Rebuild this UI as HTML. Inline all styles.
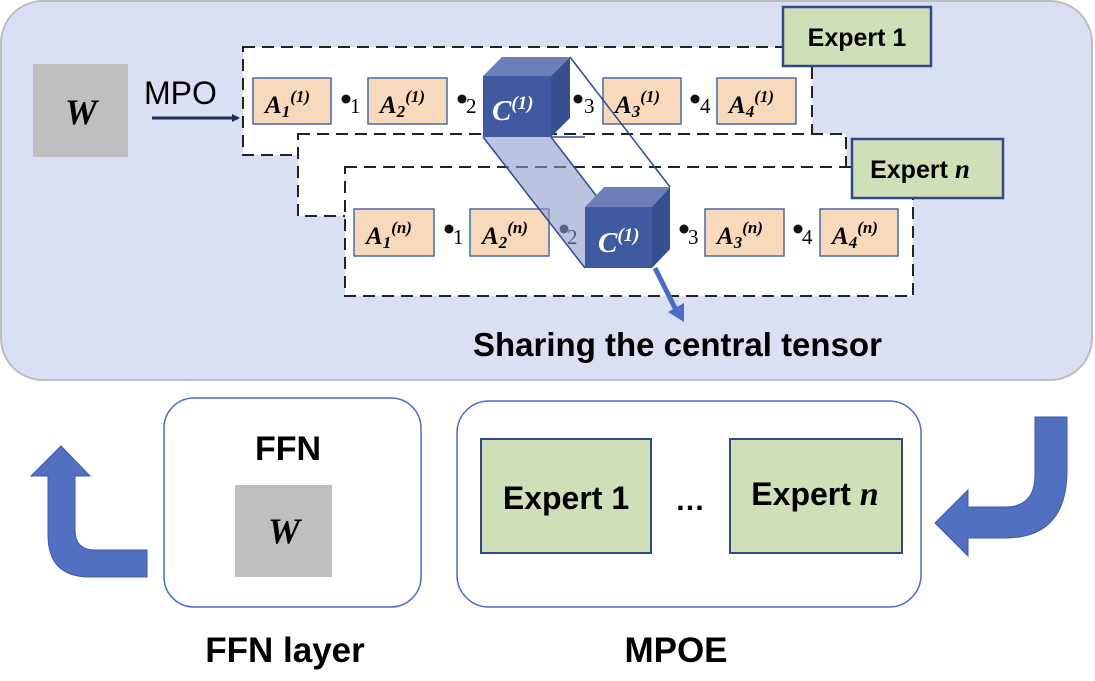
<!DOCTYPE html>
<html><head><meta charset="utf-8"><style>
html,body{margin:0;padding:0;background:#fff}
svg{display:block}
.s{font-family:"Liberation Sans",sans-serif;font-weight:bold}
.m{font-family:"Liberation Serif",serif;font-weight:bold;font-style:italic}
.n{font-family:"Liberation Serif",serif}
</style></head><body>
<svg width="1095" height="681" viewBox="0 0 1095 681" xmlns="http://www.w3.org/2000/svg">
<defs>
<marker id="ah" markerWidth="8" markerHeight="8" refX="6" refY="4" orient="auto" markerUnits="userSpaceOnUse"><path d="M0,0 L8,4 L0,8 z" fill="#1f2d5a"/></marker>
</defs>
<rect x="1" y="1" width="1091" height="379" rx="42" fill="#dae0f3" stroke="#bdbdbd" stroke-width="2"/>
<rect x="33" y="64" width="95" height="93" fill="#bfbfbf"/>
<text x="81" y="124" class="m" font-size="36" text-anchor="middle">W</text>
<text x="144" y="104" font-family="Liberation Sans,sans-serif" font-size="32">MPO</text>
<line x1="152" y1="118" x2="238" y2="118" stroke="#1f2d5a" stroke-width="3" marker-end="url(#ah)"/>
<g stroke="#222" stroke-width="2" stroke-dasharray="12,7" fill="#fff">
<rect x="243" y="47" width="569" height="108"/>
<rect x="298" y="134" width="548" height="82"/>
<rect x="345" y="167" width="568" height="129"/>
</g>
<g fill="#cfdfb8" stroke="#2f4a8a" stroke-width="2.5">
<rect x="783" y="7" width="148" height="59"/>
<rect x="852" y="139" width="151" height="59"/>
</g>
<text x="857" y="46" class="s" font-size="25" text-anchor="middle">Expert 1</text>
<text x="920" y="178" class="s" font-size="25" text-anchor="middle">Expert <tspan class="m" font-size="27">n</tspan></text>
<g fill="#f8d9bb" stroke="#4a69a8" stroke-width="1.5">
<rect x="253" y="78" width="78" height="46"/><rect x="368" y="78" width="79" height="46"/>
<rect x="603" y="78" width="78" height="46"/><rect x="717" y="78" width="79" height="46"/>
<rect x="354" y="209" width="80" height="47"/><rect x="470" y="209" width="79" height="47"/>
<rect x="705" y="209" width="79" height="47"/><rect x="820" y="209" width="78" height="47"/>
</g>
<g class="m" font-size="25">
<text x="265" y="113">A<tspan font-size="17" dy="4">1</tspan><tspan font-size="17" dy="-15">(1)</tspan></text>
<text x="380" y="113">A<tspan font-size="17" dy="4">2</tspan><tspan font-size="17" dy="-15">(1)</tspan></text>
<text x="615" y="113">A<tspan font-size="17" dy="4">3</tspan><tspan font-size="17" dy="-15">(1)</tspan></text>
<text x="729" y="113">A<tspan font-size="17" dy="4">4</tspan><tspan font-size="17" dy="-15">(1)</tspan></text>
<text x="366" y="244">A<tspan font-size="17" dy="4">1</tspan><tspan font-size="17" dy="-15">(n)</tspan></text>
<text x="482" y="244">A<tspan font-size="17" dy="4">2</tspan><tspan font-size="17" dy="-15">(n)</tspan></text>
<text x="717" y="244">A<tspan font-size="17" dy="4">3</tspan><tspan font-size="17" dy="-15">(n)</tspan></text>
<text x="832" y="244">A<tspan font-size="17" dy="4">4</tspan><tspan font-size="17" dy="-15">(n)</tspan></text>
</g>
<g fill="#111">
<circle cx="346" cy="99" r="4.5"/><circle cx="462" cy="99" r="4.5"/><circle cx="578" cy="99" r="4.5"/><circle cx="695" cy="99" r="4.5"/>
<circle cx="449" cy="229" r="4.5"/><circle cx="564" cy="229" r="4.5"/><circle cx="684" cy="229" r="4.5"/><circle cx="798" cy="229" r="4.5"/>
</g>
<g class="n" font-size="21">
<text x="350" y="113">1</text><text x="466" y="113">2</text><text x="584" y="113">3</text><text x="700" y="113">4</text>
<text x="453" y="244">1</text><text x="567" y="244">2</text><text x="688" y="244">3</text><text x="802" y="244">4</text>
</g>
<!-- prism -->
<polygon points="483,137 551,137 652,268 585,268" fill="#8d9cc8" fill-opacity="0.6"/>
<g stroke="#2f4a9a" stroke-width="1.5" fill="none">
<line x1="483" y1="137" x2="585" y2="268"/>
<line x1="551" y1="137" x2="652" y2="268"/>
<line x1="570" y1="57" x2="670" y2="187"/>
<line x1="551" y1="137" x2="585" y2="137"/>
</g>
<!-- cube 1 -->
<polygon points="483,76 502,57 570,57 551,76" fill="#6c7fb8"/>
<polygon points="551,76 570,57 570,118 551,137" fill="#354f8f"/>
<rect x="483" y="76" width="68" height="61" fill="#3f5aa0"/>
<text x="492" y="120" class="m" font-size="29" fill="#fff">C<tspan font-size="19" dy="-11">(1)</tspan></text>
<!-- cube 2 -->
<polygon points="585,207 604,187 670,187 652,207" fill="#6c7fb8"/>
<polygon points="652,207 670,187 670,249 652,268" fill="#354f8f"/>
<rect x="585" y="207" width="67" height="61" fill="#3f5aa0"/>
<text x="598" y="252" class="m" font-size="29" fill="#fff">C<tspan font-size="19" dy="-11">(1)</tspan></text>
<line x1="655" y1="268" x2="676" y2="310" stroke="#4a6cc8" stroke-width="5"/>
<polygon points="668,312 684,322 684,303" fill="#4a6cc8"/>
<text x="473" y="356" class="s" font-size="33">Sharing the central tensor</text>
<!-- bottom -->
<rect x="164" y="398" width="257" height="209" rx="30" fill="#fff" stroke="#4a6cc8" stroke-width="1.5"/>
<text x="288" y="460" class="s" font-size="34" text-anchor="middle">FFN</text>
<rect x="235" y="485" width="97" height="92" fill="#bfbfbf"/>
<text x="284" y="543" class="m" font-size="36" text-anchor="middle">W</text>
<rect x="457" y="401" width="464" height="206" rx="32" fill="#fff" stroke="#4a6cc8" stroke-width="1.5"/>
<rect x="481" y="439" width="170" height="114" fill="#cfdfb8" stroke="#2f4a8a" stroke-width="2"/>
<rect x="730" y="439" width="172" height="114" fill="#cfdfb8" stroke="#2f4a8a" stroke-width="2"/>
<text x="566" y="509" class="s" font-size="32" text-anchor="middle">Expert 1</text>
<text x="815" y="505" class="s" font-size="32" text-anchor="middle">Expert <tspan class="m" font-size="34">n</tspan></text>
<text x="690" y="510" class="s" font-size="30" text-anchor="middle">…</text>
<text x="285" y="662" class="s" font-size="35" text-anchor="middle">FFN layer</text>
<text x="676" y="662" class="s" font-size="35" text-anchor="middle">MPOE</text>
<!-- left arrow -->
<path d="M147,550 L95,550 Q75,550 75,530 L75,476 L90,476 L61,446 L31,476 L48,476 L48,535 Q48,577 90,577 L147,577 Z" fill="#5170c2" stroke="#3d5aa8" stroke-width="1"/>
<!-- right arrow -->
<path d="M1035,417 L1067,417 L1067,470 Q1067,538 1005,538 L968,538 L968,556 L935,523 L968,490 L968,507 L1005,507 Q1035,507 1035,475 Z" fill="#5170c2" stroke="#3d5aa8" stroke-width="1"/>
</svg>
</body></html>
